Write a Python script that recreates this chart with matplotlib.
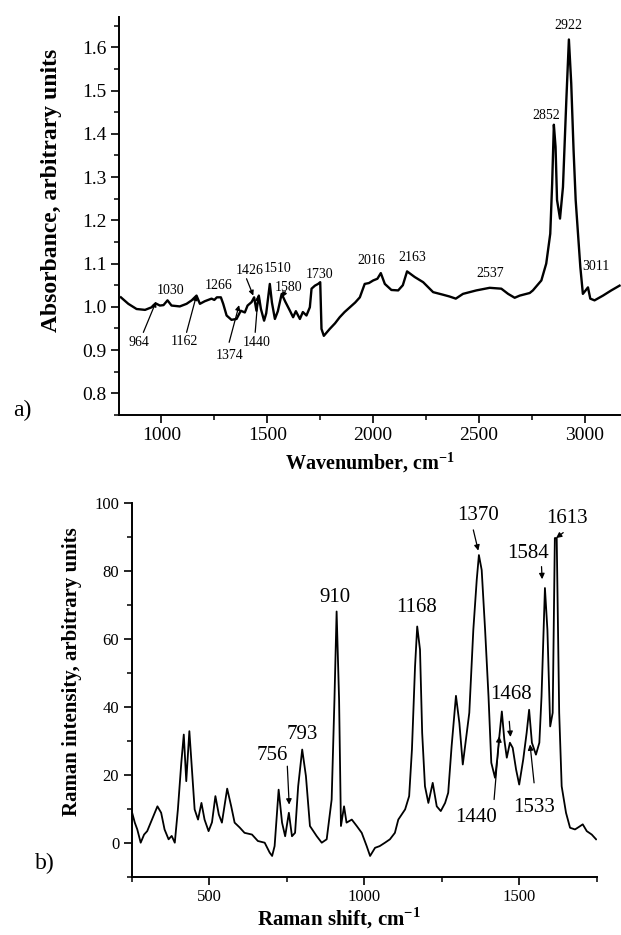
import matplotlib
matplotlib.use('Agg')
import matplotlib.pyplot as plt
from matplotlib.ticker import MultipleLocator, FormatStrFormatter

plt.rcParams['font.family'] = ['Liberation Serif', 'DejaVu Serif']
plt.rcParams['mathtext.fontset'] = 'custom'
plt.rcParams['mathtext.rm'] = 'Liberation Serif'
plt.rcParams['mathtext.bf'] = 'Liberation Serif:bold'

# ---------------- FTIR data (panel a) ----------------
ftir_wavenumber = [809, 844, 883, 923, 954, 973, 993, 1010, 1029, 1048, 1087, 1119, 1143, 1166,
                   1182, 1205, 1237, 1250, 1262, 1281, 1292, 1308, 1331, 1355, 1375, 1394, 1407,
                   1426, 1438, 1449, 1460, 1470, 1485, 1495, 1512, 1522, 1536, 1550, 1568, 1585,
                   1607, 1622, 1635, 1654, 1668, 1685, 1701, 1709, 1725, 1740, 1750, 1756, 1767,
                   1795, 1820, 1842, 1865, 1890, 1915, 1937, 1960, 1980, 2000, 2020, 2036, 2055,
                   2086, 2118, 2140, 2160, 2196, 2236, 2283, 2330, 2360, 2390, 2424, 2487, 2550,
                   2605, 2637, 2668, 2692, 2739, 2754, 2794, 2817, 2836, 2845, 2853, 2861, 2868,
                   2882, 2896, 2912, 2924, 2935, 2946, 2956, 2967, 2978, 2990, 3003, 3014, 3025,
                   3045, 3085, 3124, 3163]
ftir_absorbance = [1.022, 1.007, 0.995, 0.993, 0.999, 1.008, 1.003, 1.004, 1.015, 1.003, 1.001,
                   1.007, 1.015, 1.026, 1.007, 1.013, 1.019, 1.016, 1.022, 1.022, 1.007, 0.980,
                   0.970, 0.972, 0.991, 0.987, 1.003, 1.011, 1.022, 0.991, 1.026, 0.995, 0.968,
                   0.985, 1.053, 1.010, 0.972, 0.990, 1.030, 1.012, 0.991, 0.976, 0.990, 0.972,
                   0.988, 0.980, 0.999, 1.042, 1.049, 1.053, 1.057, 0.949, 0.933, 0.949, 0.962,
                   0.976, 0.988, 0.999, 1.010, 1.022, 1.053, 1.055, 1.061, 1.065, 1.078, 1.053,
                   1.039, 1.038, 1.050, 1.082, 1.069, 1.057, 1.034, 1.028, 1.024, 1.019, 1.030,
                   1.038, 1.044, 1.042, 1.030, 1.021, 1.026, 1.032, 1.038, 1.061, 1.100, 1.169,
                   1.285, 1.421, 1.370, 1.247, 1.204, 1.277, 1.479, 1.618, 1.517, 1.363, 1.247,
                   1.169, 1.092, 1.030, 1.038, 1.045, 1.019, 1.015, 1.026, 1.038, 1.049]

# ---------------- Raman data (panel b) ----------------
raman_shift = [250, 260, 268, 279, 290, 300, 313, 333, 345, 356, 369, 379, 389, 399, 410, 418,
               426, 436, 445, 453, 464, 475, 485, 498, 509, 520, 531, 541, 558, 571, 582, 598,
               614, 638, 657, 679, 695, 703, 711, 724, 735, 745, 757, 767, 777, 787, 800, 812,
               825, 847, 863, 879, 895, 904, 911, 919, 925, 935, 943, 960, 976, 992, 1008, 1019,
               1035, 1050, 1067, 1083, 1099, 1110, 1132, 1145, 1154, 1164, 1171, 1180, 1187,
               1196, 1207, 1221, 1234, 1247, 1261, 1271, 1282, 1296, 1307, 1318, 1328, 1339,
               1352, 1363, 1370, 1379, 1390, 1401, 1410, 1422, 1429, 1436, 1444, 1452, 1460,
               1470, 1479, 1490, 1500, 1513, 1524, 1532, 1541, 1554, 1565, 1572, 1583, 1591,
               1600, 1608, 1615, 1621, 1629, 1637, 1651, 1664, 1680, 1692, 1705, 1718, 1734,
               1748]
raman_intensity = [9.3, 5.9, 3.9, 0.0, 2.4, 3.4, 6.3, 10.7, 8.8, 3.9, 1.0, 2.0, 0.0, 9.8, 23.5,
                   31.8, 18.1, 32.8, 20.5, 9.8, 6.8, 11.7, 6.8, 3.4, 6.0, 13.7, 8.3, 5.9, 15.9,
                   10.7, 5.9, 4.5, 2.9, 2.4, 0.5, 0.0, -2.9, -3.9, -1.0, 15.6, 5.9, 1.9, 8.8, 1.9,
                   2.9, 16.6, 27.4, 19.6, 4.9, 1.9, 0.0, 1.0, 12.7, 42.0, 68.0, 42.0, 4.9, 10.7,
                   5.9, 6.8, 4.9, 2.9, -1.0, -3.9, -1.5, -1.0, 0.0, 1.0, 2.9, 6.8, 9.8, 13.7,
                   27.4, 51.8, 63.6, 56.8, 32.3, 16.6, 11.7, 17.6, 10.7, 9.3, 11.7, 14.7, 28.4,
                   43.2, 35.2, 23.0, 30.3, 38.2, 62.6, 77.3, 84.6, 80.2, 62.6, 43.0, 23.5, 19.1,
                   24.5, 31.3, 38.6, 30.3, 25.0, 29.4, 27.9, 21.5, 17.1, 24.5, 32.3, 39.1, 29.4,
                   25.9, 29.4, 43.0, 74.9, 62.6, 34.2, 38.2, 89.6, 89.6, 38.2, 16.6, 8.8, 4.4,
                   3.9, 4.6, 5.4, 3.4, 2.4, 1.0]

# ---------------- annotations ----------------
ftir_labels = ['964', '1030', '1162', '1266', '1374', '1426', '1510', '1440', '1580', '1730',
               '2016', '2163', '2537', '2852', '2922', '3011']
ftir_text_xy = [(896, 0.918), (1041, 1.038), (1108, 0.920), (1268, 1.049), (1320, 0.887),
                (1415, 1.084), (1551, 1.088), (1449, 0.918), (1599, 1.045), (1745, 1.075),
                (1992, 1.106), (2185, 1.114), (2553, 1.078), (2817, 1.442), (2920, 1.650),
                (3053, 1.094)]
ftir_arrows = [((915, 0.941), (975, 1.012)), None, ((1119, 0.941), (1166, 1.027)), None,
               ((1320, 0.918), (1367, 1.004)), ((1402, 1.065), (1434, 1.026)), None,
               ((1443, 0.941), (1457, 1.027)), ((1585, 1.036), (1570, 1.022)), None, None, None,
               None, None, None, None]

raman_labels = ['756', '793', '910', '1168', '1370', '1584', '1613', '1468', '1440', '1533']
raman_text_xy = [(705, 25.6), (801, 31.8), (906, 72.2), (1169, 69.3), (1368, 96.1),
                 (1527, 85.1), (1653, 95.4), (1475, 43.5), (1361, 7.3), (1549, 10.3)]
raman_arrows = [((752, 22.5), (758, 11.2)), None, None, None, ((1352, 92.0), (1368, 85.9)),
                ((1572, 81.2), (1574, 77.5)), ((1642, 91.2), (1619, 89.6)),
                ((1468, 35.7), (1472, 31.1)), ((1419, 12.7), (1436, 31.3)),
                ((1548, 17.6), (1535, 28.9))]

W, H = 621, 935
fig = plt.figure(figsize=(W / 100, H / 100), dpi=100)


def rect(l, t, r, b):
    return [l / W, 1 - b / H, (r - l) / W, (b - t) / H]


def fx(px):
    return px / W


def fy(py):
    return 1 - py / H


def style_axes(ax, tick_fs):
    for s in ('top', 'right'):
        ax.spines[s].set_visible(False)
    for s in ('left', 'bottom'):
        ax.spines[s].set_linewidth(1.4)
    ax.tick_params(which='major', direction='out', length=6, width=1.2, labelsize=tick_fs, pad=3)
    ax.tick_params(which='minor', direction='out', length=3.5, width=1.1)


# ---------------- panel a ----------------
axa = fig.add_axes(rect(119, 17, 621, 415))
axa.plot(ftir_wavenumber, ftir_absorbance, color='black', lw=1.7)
axa.set_xlim(800, 3170)
axa.set_ylim(0.75, 1.67)
axa.xaxis.set_major_locator(MultipleLocator(500))
axa.xaxis.set_minor_locator(MultipleLocator(250))
axa.yaxis.set_major_locator(MultipleLocator(0.1))
axa.yaxis.set_minor_locator(MultipleLocator(0.05))
axa.yaxis.set_major_formatter(FormatStrFormatter('%.1f'))
style_axes(axa, 14)

for lab, (tx, ty), arr in zip(ftir_labels, ftir_text_xy, ftir_arrows):
    axa.text(tx, ty, lab, fontsize=10, ha='center', va='center')
    if arr is not None:
        axa.annotate('', xy=arr[1], xytext=arr[0],
                     arrowprops=dict(arrowstyle='-|>', color='black', lw=0.9,
                                     mutation_scale=7, shrinkA=0, shrinkB=0))

# ---------------- panel b ----------------
axb = fig.add_axes(rect(131.7, 502.7, 596.7, 876.7))
axb.plot(raman_shift, raman_intensity, color='black', lw=1.3)
axb.set_xlim(250, 1750)
axb.set_ylim(-10, 100)
axb.xaxis.set_major_locator(MultipleLocator(500))
axb.xaxis.set_minor_locator(MultipleLocator(250))
axb.yaxis.set_major_locator(MultipleLocator(20))
axb.yaxis.set_minor_locator(MultipleLocator(10))
style_axes(axb, 12)

for lab, (tx, ty), arr in zip(raman_labels, raman_text_xy, raman_arrows):
    axb.text(tx, ty, lab, fontsize=15, ha='center', va='center')
    if arr is not None:
        axb.annotate('', xy=arr[1], xytext=arr[0],
                     arrowprops=dict(arrowstyle='-|>', color='black', lw=0.9,
                                     mutation_scale=8, shrinkA=0, shrinkB=0))

# ---------------- labels ----------------
fig.text(fx(52), fy(190), 'Absorbance, arbitrary units', rotation=90, fontsize=17,
         fontweight='bold', ha='center', va='center')
fig.text(fx(370), fy(463), r'Wavenumber, cm$^{\mathbf{-1}}$', fontsize=14.5,
         fontweight='bold', ha='center', va='center')
fig.text(fx(72), fy(672), 'Raman intensity, arbitrary units', rotation=90, fontsize=15,
         fontweight='bold', ha='center', va='center')
fig.text(fx(339), fy(918), r'Raman shift, cm$^{\mathbf{-1}}$', fontsize=15,
         fontweight='bold', ha='center', va='center')
fig.text(fx(22), fy(410), 'a)', fontsize=17, ha='center', va='center')
fig.text(fx(45), fy(863), 'b)', fontsize=17, ha='center', va='center')

fig.savefig('out.png', dpi=100)
